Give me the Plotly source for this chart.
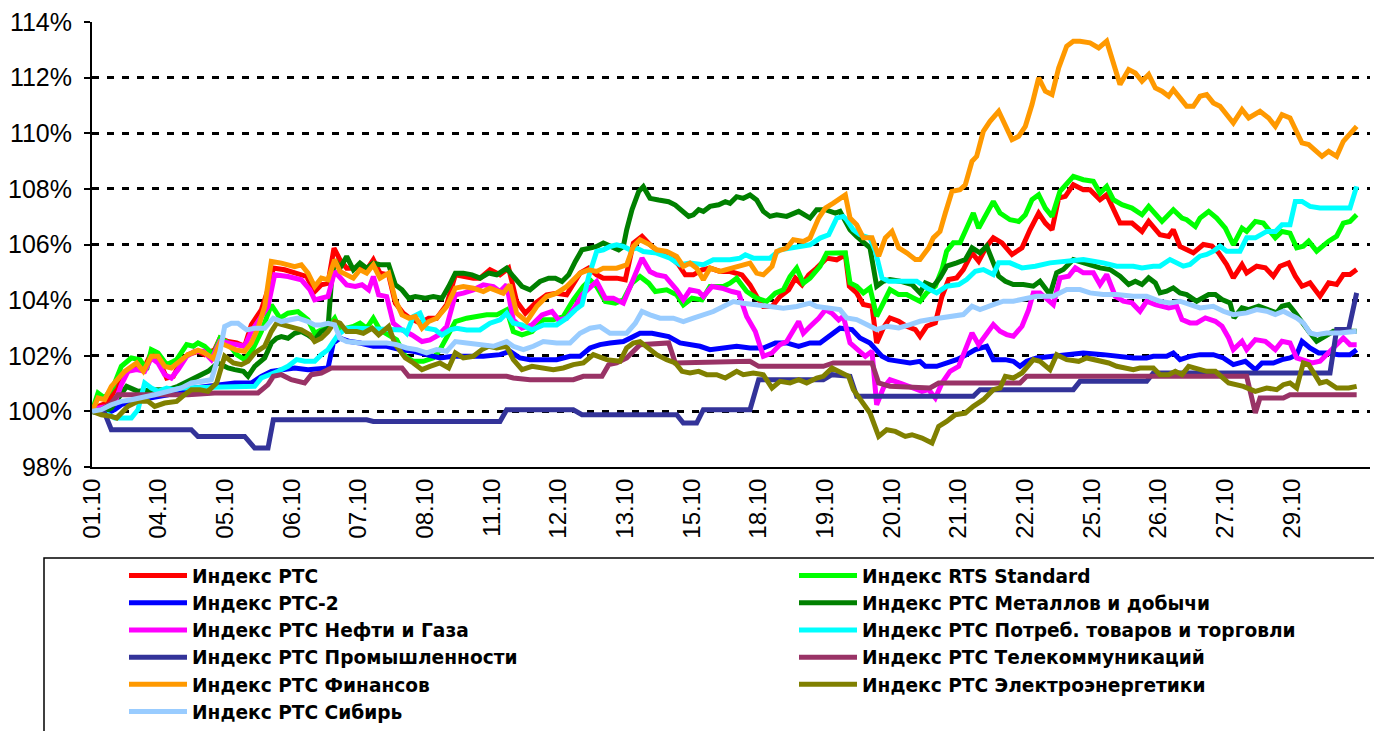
import plotly.graph_objects as go

# ---- category axis (sample number, 10 samples per labelled session) ----
tick_pos = [0, 10, 20, 30, 40, 50, 60, 70, 80, 90, 100, 110, 120, 130, 140, 150, 160, 170, 180]
tick_labels = ["01.10", "04.10", "05.10", "06.10", "07.10", "08.10", "11.10", "12.10", "13.10", "15.10",
               "18.10", "19.10", "20.10", "21.10", "22.10", "25.10", "26.10", "27.10", "29.10"]
y_ticks = [98, 100, 102, 104, 106, 108, 110, 112, 114]
y_labels = ["98%", "100%", "102%", "104%", "106%", "108%", "110%", "112%", "114%"]

names = ["Индекс РТС", "Индекс RTS Standard", "Индекс РТС-2", "Индекс РТС Металлов и добычи",
         "Индекс РТС Нефти и Газа", "Индекс РТС Потреб. товаров и торговли", "Индекс РТС Промышленности",
         "Индекс РТС Телекоммуникаций", "Индекс РТС Финансов", "Индекс РТС Электроэнергетики",
         "Индекс РТС Сибирь"]
colors = ["#FF0000", "#00FF00", "#0000FF", "#008000", "#FF00FF", "#00FFFF", "#333399",
          "#993366", "#FF9900", "#808000", "#99CCFF"]

x_rts = [0, 0.9, 2.2, 3.2, 4.4, 6.4, 7.7, 8.9, 10.0, 11.2, 12.2, 13.2, 14.4, 15.9, 16.9, 18.4, 19.2, 20.4, 21.7, 22.9,
         23.9, 25.4, 26.4, 27.2, 28.9, 30.9, 32.2, 33.4, 34.4, 35.4, 36.3, 37.2, 38.2, 40.2, 41.2, 42.2, 43.2, 44.5,
         45.5, 46.7, 47.7, 49.2, 50.5, 51.7, 53.2, 54.5, 55.7, 57.2, 58.2, 59.7, 61.2, 62.5, 63.7, 65.0, 66.5, 68.2,
         69.7, 71.2, 73.2, 74.5, 75.7, 76.7, 78.7, 80.0, 81.2, 82.5, 83.7, 85.2, 86.7, 88.0, 89.0, 90.2, 91.5, 92.7,
         94.2, 95.7, 97.5, 98.7, 99.7, 100.7, 102.0, 103.2, 104.5, 105.5, 106.5, 107.5, 108.7, 110.2, 111.7, 113.0,
         113.6, 114.7, 115.7, 117.0, 117.7, 118.7, 119.7, 121.0, 122.2, 123.5, 124.2, 125.2, 126.5, 127.5, 128.5,
         129.7, 130.7, 132.0, 133.0, 134.2, 135.2, 136.5, 138.0, 139.5, 140.7, 142.0, 143.0, 144.0, 145.0, 146.0,
         147.2, 148.7, 149.7, 151.2, 152.2, 153.2, 154.2, 156.0, 157.5, 158.5, 160.2, 161.5, 162.2, 163.2, 165.2,
         166.7, 168.0, 169.0, 170.2, 171.2, 172.5, 173.2, 174.7, 176.0, 177.2, 178.2, 179.5, 180.5, 181.5, 182.7,
         184.2, 185.5, 186.7, 187.7, 188.7, 189.7]
y_rts = [100, 100.18, 100.3, 100.66, 101.26, 101.62, 101.5, 102.1, 101.86, 101.2, 101.26, 101.74, 102.04, 102.16,
         102.04, 102.22, 102.63, 102.51, 102.46, 102.34, 103.11, 103.65, 104.37, 105.15, 105.09, 104.97, 104.85,
         104.31, 104.55, 104.61, 105.87, 105.45, 105.15, 105.15, 105.09, 105.45, 104.97, 104.91, 103.89, 103.53,
         103.35, 103.17, 103.35, 103.35, 103.83, 104.91, 104.85, 104.79, 104.79, 105.09, 104.91, 105.15, 103.95,
         103.53, 103.89, 104.19, 104.25, 104.19, 104.97, 105.15, 104.91, 104.79, 104.79, 104.73, 106.05, 106.29,
         105.99, 105.69, 105.57, 105.27, 104.91, 104.91, 105.09, 105.15, 105.03, 105.03, 104.91, 104.55, 104.13,
         103.77, 103.77, 104.13, 104.37, 104.79, 104.55, 104.91, 105.15, 105.51, 105.45, 105.63, 104.5, 104.26,
         103.84, 103.78, 102.46, 103.0, 103.36, 103.24, 103.06, 102.94, 102.7, 103.06, 103.18, 104.14, 104.74,
         104.8, 105.1, 105.7, 105.4, 105.94, 106.24, 106.06, 105.64, 105.88, 106.53, 107.13, 106.77, 106.53,
         107.67, 107.73, 108.15, 107.97, 107.97, 107.61, 107.79, 107.25, 106.77, 106.77, 106.47, 106.83, 106.35,
         106.29, 106.53, 105.93, 105.7, 106.0, 105.94, 105.7, 105.28, 104.8, 105.28, 104.98, 105.22, 105.16,
         104.86, 105.22, 105.34, 104.86, 104.5, 104.62, 104.14, 104.62, 104.56, 104.92, 104.92, 105.1]

x_std = [0, 0.9, 1.9, 3.2, 4.4, 5.9, 7.2, 8.2, 8.9, 9.9, 11.2, 12.7, 14.2, 15.2, 15.9, 16.9, 18.2, 19.2, 20.4, 21.7,
         22.9, 24.2, 25.4, 26.9, 28.2, 29.4, 30.9, 32.4, 33.4, 34.4, 35.4, 36.4, 37.2, 39.2, 40.2, 41.2, 42.2, 43.2,
         45.7, 47.0, 48.2, 49.7, 51.2, 52.2, 53.2, 54.5, 56.2, 57.7, 59.2, 60.7, 62.2, 63.2, 64.5, 66.0, 67.7, 69.2,
         70.7, 72.2, 73.7, 74.7, 75.7, 77.0, 78.5, 79.7, 81.0, 82.2, 83.5, 84.5, 86.2, 87.7, 88.7, 90.0, 91.5, 92.7,
         94.7, 95.7, 96.7, 98.2, 99.7, 101.2, 102.5, 103.7, 104.7, 105.7, 106.7, 107.7, 109.2, 110.2, 111.7, 113.0,
         113.7, 114.7, 115.7, 116.7, 117.7, 118.7, 119.7, 121.0, 122.2, 123.2, 124.2, 125.2, 126.5, 127.5, 128.2,
         129.2, 130.2, 131.2, 132.2, 133.0, 134.2, 135.2, 136.2, 137.7, 139.0, 140.0, 141.0, 142.0, 143.0, 144.0,
         145.2, 146.2, 147.2, 148.7, 150.2, 151.2, 152.2, 153.2, 154.5, 156.0, 157.5, 158.5, 160.5, 162.2, 163.5,
         164.2, 165.5, 166.2, 167.5, 168.7, 170.0, 171.2, 172.5, 173.2, 174.5, 175.7, 177.5, 178.5, 179.7, 180.7,
         181.7, 182.5, 183.7, 185.5, 186.7, 187.7, 188.7, 189.7]
y_std = [100, 100.66, 100.48, 100.9, 101.62, 101.92, 101.86, 101.5, 102.22, 102.1, 101.68, 101.86, 102.4, 102.34,
         102.46, 102.34, 102.04, 102.63, 102.46, 102.04, 101.86, 102.28, 102.87, 103.83, 103.35, 103.53, 103.59,
         103.29, 102.81, 102.93, 103.05, 103.35, 102.93, 103.05, 103.17, 102.99, 103.35, 102.93, 102.57, 101.98,
         101.8, 101.8, 101.92, 102.22, 102.69, 103.23, 103.35, 103.41, 103.47, 103.47, 103.65, 102.87, 102.75,
         102.87, 103.29, 103.29, 103.41, 104.01, 104.49, 104.73, 104.49, 103.95, 103.89, 104.01, 104.61, 104.85,
         104.61, 104.31, 104.37, 104.19, 103.83, 104.07, 104.01, 104.49, 104.49, 104.61, 104.79, 104.31, 104.07,
         103.95, 104.25, 104.37, 104.85, 105.15, 104.61, 104.79, 105.21, 105.69, 105.69, 105.7, 104.62, 104.5,
         104.26, 104.44, 103.42, 103.9, 104.38, 104.2, 104.2, 104.08, 103.96, 104.26, 104.5, 105.1, 105.76, 106.06,
         106.06, 106.59, 107.13, 106.59, 107.13, 107.55, 107.13, 106.89, 106.83, 107.07, 107.61, 107.79, 107.31,
         107.01, 107.91, 108.21, 108.45, 108.33, 108.27, 107.85, 108.09, 107.61, 107.43, 107.31, 107.07, 107.37,
         106.83, 107.25, 106.95, 106.89, 106.65, 106.95, 107.19, 106.95, 106.59, 105.99, 106.59, 106.47, 106.83,
         106.77, 106.24, 106.47, 106.41, 105.88, 105.94, 106.12, 105.76, 106.12, 106.3, 106.77, 106.83, 107.07]

x_rts2 = [0, 2.4, 3.4, 4.4, 5.9, 7.4, 9.4, 11.4, 13.4, 15.4, 17.4, 19.4, 21.4, 23.9, 25.4, 26.9, 28.9, 30.4, 32.4,
          34.4, 35.4, 36.2, 37.2, 38.7, 40.2, 42.2, 44.2, 46.2, 48.2, 50.2, 52.2, 54.2, 56.2, 58.7, 61.2, 62.7, 64.2,
          65.7, 67.7, 69.7, 71.7, 73.2, 74.7, 76.2, 77.7, 79.7, 80.7, 82.2, 84.0, 86.5, 88.2, 89.7, 91.2, 92.7, 94.7,
          96.7, 98.7, 100.7, 102.5, 104.2, 106.0, 107.7, 109.2, 110.5, 111.7, 112.2, 114.0, 115.2, 116.7, 118.5,
          119.5, 121.0, 122.7, 124.2, 125.0, 126.7, 128.2, 129.7, 131.2, 132.5, 134.2, 135.2, 137.0, 138.2, 139.2,
          140.2, 141.7, 143.7, 146.2, 148.7, 151.7, 153.7, 156.2, 158.2, 159.2, 161.2, 162.2, 163.2, 164.7, 166.2,
          168.2, 169.7, 171.2, 173.0, 174.5, 175.5, 177.2, 178.5, 179.7, 180.7, 181.5, 182.7, 184.0, 185.2, 187.0,
          188.7, 189.7]
y_rts2 = [100, 99.94, 100.06, 100.24, 100.36, 100.42, 100.54, 100.6, 100.72, 100.84, 100.9, 100.96, 101.02, 101.02,
          101.26, 101.44, 101.5, 101.56, 101.5, 101.56, 101.56, 102.46, 102.63, 102.51, 102.46, 102.34, 102.34,
          102.22, 102.16, 102.04, 101.92, 101.98, 101.98, 101.98, 102.04, 102.16, 101.92, 101.86, 101.86, 101.86,
          101.98, 101.98, 102.28, 102.4, 102.46, 102.51, 102.63, 102.81, 102.81, 102.69, 102.46, 102.4, 102.34,
          102.22, 102.28, 102.34, 102.28, 102.28, 102.46, 102.46, 102.34, 102.46, 102.46, 102.69, 102.93, 102.99,
          102.94, 102.64, 102.46, 101.98, 101.86, 101.8, 101.74, 101.8, 101.62, 101.62, 101.74, 101.86, 102.04,
          102.22, 102.34, 101.86, 101.86, 101.8, 101.62, 101.8, 101.92, 101.98, 102.04, 102.1, 102.04, 101.98,
          101.92, 101.92, 101.98, 101.98, 102.1, 101.86, 101.98, 102.04, 102.04, 101.92, 101.68, 101.8, 101.5,
          101.74, 101.74, 101.86, 101.92, 102.04, 102.52, 102.28, 102.1, 102.1, 102.04, 102.04, 102.22]

x_metal = [0, 1.4, 2.9, 4.4, 5.2, 6.9, 9.4, 11.4, 12.9, 14.4, 15.9, 17.4, 18.9, 19.7, 20.4, 21.4, 22.7, 23.4, 24.4,
           25.9, 26.9, 27.7, 28.4, 29.4, 30.4, 31.4, 32.4, 33.4, 34.4, 35.4, 35.9, 36.4, 37.2, 38.2, 39.2, 40.2, 41.2,
           42.2, 43.2, 44.5, 45.5, 46.5, 47.5, 48.5, 50.0, 51.2, 52.5, 53.5, 54.5, 55.7, 57.0, 58.2, 59.5, 60.7, 62.2,
           63.2, 64.5, 65.7, 67.2, 68.5, 69.5, 70.5, 71.5, 72.5, 73.5, 74.7, 75.7, 76.7, 77.7, 79.0, 79.7, 80.2, 81.0,
           82.0, 82.7, 83.7, 85.0, 86.5, 87.5, 88.5, 89.5, 90.2, 91.0, 91.7, 92.7, 94.0, 95.0, 95.7, 96.7, 97.7, 98.7,
           99.7, 100.7, 101.7, 102.7, 104.2, 106.0, 107.7, 108.7, 110.0, 111.5, 112.2, 113.7, 114.7, 115.7, 116.7,
           117.7, 118.7, 119.7, 121.2, 123.0, 124.2, 125.0, 126.2, 127.2, 128.2, 129.7, 131.0, 132.0, 133.2, 134.2,
           135.2, 136.0, 137.0, 138.2, 139.7, 141.2, 142.2, 143.7, 144.7, 145.7, 147.2, 148.7, 149.7, 151.2, 152.7,
           154.2, 155.5, 156.5, 157.5, 158.5, 159.5, 160.2, 161.2, 162.2, 163.2, 164.2, 165.7, 167.5, 168.5, 169.5,
           170.7, 171.3, 172.5, 173.5, 175.0, 176.5, 177.7, 178.5, 179.5, 180.5, 181.5, 182.7, 183.7, 185.0, 186.2,
           187.7, 189.7]
y_metal = [100, 99.94, 100.12, 100.6, 100.9, 100.72, 100.78, 100.78, 100.9, 101.08, 101.26, 101.44, 101.74, 101.62,
           101.56, 101.5, 101.44, 101.26, 101.62, 101.92, 102.46, 102.63, 102.69, 102.63, 102.81, 102.87, 102.75,
           102.57, 102.87, 102.99, 104.61, 105.45, 105.15, 105.57, 105.09, 105.33, 105.15, 105.33, 105.27, 105.27,
           104.55, 104.37, 104.07, 104.13, 104.07, 104.13, 104.07, 104.49, 104.97, 104.97, 104.91, 104.79, 104.97,
           104.91, 105.15, 104.85, 104.49, 104.37, 104.67, 104.79, 104.79, 104.67, 104.91, 105.39, 105.81, 105.87,
           105.93, 106.05, 105.93, 105.81, 105.93, 106.53, 107.25, 107.9, 108.08, 107.66, 107.6, 107.54, 107.42,
           107.19, 107.01, 107.07, 107.25, 107.19, 107.37, 107.43, 107.54, 107.48, 107.72, 107.66, 107.78, 107.6,
           107.19, 107.01, 107.07, 107.01, 107.19, 106.95, 107.25, 107.25, 107.13, 107.19, 106.53, 106.29, 106.06,
           105.88, 104.5, 104.68, 104.74, 104.68, 104.56, 104.26, 104.62, 104.5, 104.8, 105.22, 105.34, 105.46,
           105.88, 105.7, 105.94, 105.34, 104.86, 104.68, 104.56, 104.56, 104.5, 104.68, 104.2, 104.98, 105.1,
           105.46, 105.34, 105.28, 105.16, 105.1, 104.86, 104.56, 104.68, 104.56, 104.8, 104.62, 104.26, 104.32,
           104.44, 104.26, 104.2, 103.96, 104.2, 104.2, 104.02, 103.9, 103.36, 103.72, 103.66, 103.78, 103.66,
           103.54, 103.78, 103.84, 103.54, 103.18, 102.82, 102.52, 102.7, 102.88, 102.88, 102.88]

x_oil = [0, 0.9, 2.2, 3.4, 4.4, 5.4, 6.7, 7.9, 8.9, 9.9, 10.9, 11.9, 12.9, 14.2, 15.4, 16.7, 17.9, 19.2, 20.4, 21.7,
         22.9, 23.9, 25.4, 26.4, 27.4, 29.4, 31.4, 32.7, 33.4, 34.4, 35.4, 36.4, 37.2, 38.2, 39.5, 40.5, 41.5, 42.2,
         43.0, 44.2, 45.2, 46.5, 48.0, 49.5, 50.7, 52.0, 53.2, 54.5, 55.7, 57.2, 58.7, 60.2, 61.2, 62.2, 63.2, 64.5,
         66.0, 67.5, 69.0, 70.0, 71.2, 72.5, 73.5, 74.5, 75.7, 77.0, 78.2, 79.7, 81.0, 82.5, 83.7, 84.7, 86.0, 87.7,
         88.7, 89.7, 91.0, 91.7, 93.0, 94.5, 96.0, 97.0, 98.2, 99.5, 100.7, 102.0, 103.2, 104.2, 106.0, 106.7, 107.7,
         109.0, 110.0, 111.0, 112.0, 112.7, 113.7, 115.0, 116.0, 117.0, 117.7, 118.7, 119.7, 121.2, 123.0, 124.5,
         125.5, 126.5, 127.5, 128.7, 130.0, 131.2, 132.0, 133.0, 134.2, 135.2, 136.2, 137.2, 138.2, 139.5, 140.5,
         141.2, 142.2, 143.2, 144.2, 145.2, 146.5, 147.5, 148.7, 150.2, 151.2, 152.2, 153.5, 154.7, 156.0, 157.2,
         158.2, 159.5, 161.5, 162.7, 163.5, 164.7, 165.7, 167.0, 168.5, 169.5, 170.5, 171.2, 172.5, 173.2, 174.5,
         176.0, 177.5, 178.5, 179.7, 180.7, 181.7, 183.0, 184.2, 185.5, 186.7, 187.7, 188.7, 189.7]
y_oil = [100, 100.12, 100.18, 100.3, 100.96, 101.44, 101.5, 101.44, 101.92, 101.74, 101.32, 101.2, 101.5, 101.98,
         102.16, 102.16, 101.86, 102.51, 102.46, 102.4, 102.34, 102.87, 103.41, 103.77, 104.91, 104.85, 104.73,
         104.37, 104.01, 104.07, 104.13, 105.03, 104.79, 104.55, 104.49, 104.55, 104.37, 104.85, 104.19, 104.13,
         103.17, 102.93, 102.75, 102.51, 102.57, 102.75, 103.05, 104.19, 104.25, 104.37, 104.55, 104.49, 104.31,
         104.55, 103.29, 102.99, 103.11, 103.47, 103.59, 103.29, 103.35, 103.77, 104.19, 104.43, 104.67, 104.07,
         104.07, 103.89, 104.61, 105.51, 105.03, 104.91, 104.85, 104.37, 104.01, 104.37, 104.31, 104.13, 104.49,
         104.43, 104.31, 104.25, 103.41, 102.87, 101.98, 102.1, 102.4, 102.51, 103.23, 102.81, 103.05, 103.35,
         103.65, 103.53, 103.29, 103.42, 102.46, 102.22, 101.98, 102.16, 100.24, 100.84, 101.14, 101.02, 100.84,
         100.72, 100.78, 100.48, 101.02, 101.44, 101.62, 102.34, 102.82, 102.4, 102.82, 103.12, 102.88, 102.76,
         102.7, 103.06, 103.66, 104.26, 104.26, 104.02, 103.84, 104.8, 104.86, 105.16, 104.98, 104.98, 104.56,
         104.92, 104.14, 103.96, 103.9, 103.6, 103.96, 103.84, 103.72, 103.78, 103.3, 103.18, 103.18, 103.36,
         103.24, 103.06, 102.64, 102.22, 102.52, 102.22, 102.58, 102.52, 102.22, 102.52, 102.46, 101.92, 101.86,
         101.74, 101.8, 102.1, 102.4, 102.64, 102.4, 102.4]

x_cons = [0, 1.4, 2.4, 3.4, 5.9, 6.9, 7.9, 8.9, 9.9, 11.2, 12.2, 13.4, 24.4, 25.4, 26.7, 27.9, 29.4, 30.7, 31.9, 33.4,
          34.4, 35.4, 36.2, 36.9, 38.2, 39.7, 46.7, 47.2, 48.2, 49.2, 50.2, 51.5, 52.5, 53.7, 54.7, 56.2, 58.2, 59.7,
          61.2, 62.2, 63.2, 64.5, 66.0, 67.7, 69.7, 71.2, 72.5, 73.5, 74.5, 75.2, 75.7, 76.7, 77.7, 78.7, 79.7, 80.7,
          81.7, 82.7, 84.7, 86.7, 88.2, 89.7, 91.7, 93.2, 95.7, 97.2, 98.0, 99.2, 101.7, 103.2, 104.7, 106.2, 107.7,
          109.2, 110.5, 111.7, 112.7, 113.2, 114.2, 115.2, 116.7, 117.5, 118.5, 119.5, 121.2, 123.7, 125.2, 126.7,
          128.2, 130.0, 131.2, 132.5, 133.7, 135.2, 136.0, 137.7, 139.5, 141.5, 143.7, 146.2, 148.7, 151.7, 153.7,
          156.2, 157.5, 159.2, 160.2, 161.7, 162.7, 163.7, 164.7, 166.2, 167.2, 168.2, 169.2, 170.2, 172.2, 173.2,
          174.5, 176.2, 177.5, 178.5, 179.7, 180.5, 181.5, 182.7, 184.2, 186.2, 188.7, 189.7]
y_cons = [100, 99.94, 99.88, 99.76, 99.76, 100.06, 101.02, 100.84, 100.72, 100.84, 100.78, 100.84, 100.9, 101.2,
          101.32, 101.44, 101.62, 101.86, 101.8, 101.8, 102.04, 102.22, 102.51, 102.75, 102.99, 102.99, 102.93,
          102.81, 103.41, 103.53, 102.99, 102.93, 102.75, 102.93, 102.99, 102.93, 102.93, 103.17, 103.29, 103.53,
          103.17, 103.11, 102.93, 103.11, 103.11, 103.35, 103.65, 103.83, 104.85, 105.45, 105.75, 105.81, 105.93,
          105.99, 105.93, 105.81, 105.87, 105.75, 105.69, 105.51, 105.27, 105.33, 105.27, 105.45, 105.45, 105.51,
          105.63, 105.51, 105.51, 105.81, 105.87, 105.93, 105.99, 106.23, 106.35, 106.95, 107.01, 106.89, 106.53,
          106.35, 106.23, 105.76, 104.8, 104.68, 104.68, 104.68, 104.44, 104.26, 104.5, 104.56, 104.74, 105.04,
          105.1, 104.92, 105.34, 105.34, 105.16, 105.22, 105.34, 105.4, 105.46, 105.34, 105.22, 105.22, 105.16,
          105.22, 105.22, 105.46, 105.34, 105.22, 105.28, 105.58, 105.64, 105.76, 105.94, 105.76, 105.76, 106.24,
          106.24, 106.47, 106.47, 106.71, 106.71, 107.55, 107.55, 107.37, 107.31, 107.31, 107.31, 108.09]

x_ind = [0, 1.9, 2.9, 14.9, 15.9, 22.9, 24.4, 26.4, 27.2, 41.2, 42.2, 61.2, 62.2, 72.2, 73.5, 87.7, 88.7, 90.7, 91.7,
         98.7, 100.0, 109.7, 111.0, 113.7, 114.7, 132.2, 133.2, 147.2, 148.2, 158.2, 159.2, 185.7, 186.7, 188.5, 189.7]
y_ind = [100, 99.94, 99.34, 99.34, 99.1, 99.1, 98.68, 98.68, 99.7, 99.7, 99.64, 99.64, 100.06, 100.06, 99.88, 99.88,
         99.58, 99.58, 100.06, 100.06, 101.14, 101.14, 101.32, 101.26, 100.54, 100.54, 100.78, 100.78, 101.08,
         101.08, 101.38, 101.38, 102.94, 102.94, 104.26]

x_tel = [0, 1.4, 2.9, 3.9, 14.4, 18.4, 24.9, 26.4, 27.2, 28.4, 29.9, 31.9, 32.9, 34.4, 35.9, 46.5, 47.5, 62.2, 63.2,
         65.7, 72.2, 73.7, 76.5, 77.5, 78.7, 80.2, 82.2, 86.5, 87.5, 98.7, 100.0, 109.7, 111.2, 117.0, 118.0, 119.7,
         125.7, 127.0, 139.2, 140.2, 173.2, 174.0, 174.5, 175.2, 178.7, 179.7, 189.7]
y_tel = [100, 100.06, 100.3, 100.6, 100.6, 100.66, 100.66, 100.96, 101.26, 101.32, 101.14, 101.02, 101.32, 101.38,
         101.56, 101.56, 101.26, 101.26, 101.2, 101.14, 101.14, 101.26, 101.26, 101.68, 101.74, 101.92, 102.4, 102.46,
         101.74, 101.8, 101.62, 101.62, 101.74, 101.74, 101.02, 100.9, 100.84, 101.02, 101.02, 101.26, 101.26,
         100.54, 99.94, 100.48, 100.48, 100.6, 100.6]

x_fin = [0, 0.9, 1.9, 2.9, 4.9, 6.7, 7.7, 8.9, 9.9, 10.9, 11.9, 13.4, 14.4, 15.9, 16.9, 18.2, 19.2, 20.4, 21.7, 22.9,
         23.9, 24.9, 25.9, 26.9, 28.4, 30.4, 31.4, 32.4, 33.4, 34.4, 35.4, 36.4, 37.2, 39.2, 40.2, 41.2, 42.2, 43.2,
         44.5, 45.5, 46.5, 47.5, 48.5, 49.5, 50.5, 51.7, 53.2, 54.5, 55.7, 57.2, 58.7, 59.7, 61.7, 62.7, 63.7, 65.2,
         66.7, 68.2, 69.7, 71.2, 73.2, 74.5, 75.7, 76.7, 78.7, 80.2, 81.2, 82.2, 83.7, 84.7, 86.2, 87.7, 88.7, 89.7,
         90.7, 91.7, 92.7, 94.2, 96.2, 98.7, 99.7, 100.7, 102.0, 102.7, 104.2, 105.2, 106.7, 107.7, 109.0, 110.0,
         111.2, 113.0, 113.7, 114.7, 115.7, 117.0, 118.0, 119.0, 120.0, 121.0, 122.2, 123.5, 124.2, 125.5, 126.2,
         127.2, 128.0, 129.0, 130.2, 131.0, 132.0, 132.7, 133.7, 134.7, 136.0, 137.0, 138.0, 139.0, 140.0, 141.0,
         142.0, 143.0, 144.0, 145.0, 146.2, 147.2, 148.2, 149.7, 151.0, 152.2, 153.2, 154.2, 155.5, 156.5, 157.5,
         158.5, 159.5, 160.5, 161.5, 162.2, 163.2, 164.2, 165.2, 166.2, 167.2, 168.2, 169.2, 170.2, 171.2, 172.5,
         173.5, 175.2, 176.5, 177.5, 178.5, 179.7, 180.5, 181.5, 182.5, 183.5, 184.5, 185.5, 186.7, 187.7, 188.7,
         189.7]
y_fin = [100, 100.48, 100.42, 100.9, 101.44, 101.74, 101.44, 101.98, 101.98, 101.62, 101.56, 101.86, 102.04, 102.2,
         102.1, 101.9, 102.46, 102.34, 102.2, 102.16, 102.46, 103.0, 103.77, 105.39, 105.33, 105.2, 105.27, 104.97,
         104.49, 104.79, 104.73, 105.45, 105.03, 104.79, 105.09, 104.97, 105.27, 104.79, 104.97, 104.01, 103.47,
         103.35, 103.41, 102.99, 103.23, 103.35, 103.77, 104.43, 104.49, 104.43, 104.31, 104.43, 104.25, 104.55,
         103.53, 103.23, 103.77, 104.13, 104.25, 104.49, 104.97, 105.09, 105.03, 105.15, 105.15, 105.27, 105.93,
         106.17, 105.99, 105.81, 105.75, 105.57, 105.21, 105.33, 105.15, 104.73, 105.15, 105.03, 105.15, 105.33,
         104.97, 104.91, 105.21, 105.75, 105.87, 106.17, 106.11, 106.23, 106.95, 107.31, 107.49, 107.78, 106.95,
         106.71, 106.24, 106.24, 105.58, 106.24, 106.47, 105.88, 105.7, 105.46, 105.46, 105.88, 106.24, 106.47,
         107.13, 107.91, 107.97, 108.15, 108.99, 109.17, 110.07, 110.43, 110.79, 110.25, 109.77, 109.89, 110.25,
         111.03, 111.99, 111.51, 111.39, 112.35, 113.13, 113.31, 113.31, 113.25, 113.07, 113.31, 112.53, 111.75,
         112.29, 112.17, 111.87, 112.11, 111.63, 111.51, 111.33, 111.57, 111.27, 110.97, 110.97, 111.33, 111.39,
         111.09, 110.97, 110.67, 110.37, 110.85, 110.55, 110.79, 110.55, 110.25, 110.67, 110.55, 110.13, 109.65,
         109.59, 109.35, 109.17, 109.35, 109.17, 109.71, 109.95, 110.25]

x_el = [0, 1.4, 2.9, 3.7, 5.4, 6.9, 8.4, 9.4, 10.9, 12.7, 13.9, 14.9, 16.2, 17.4, 18.7, 19.9, 21.2, 22.4, 23.4, 24.4,
        25.9, 26.9, 27.7, 29.4, 31.4, 32.7, 33.4, 34.4, 35.4, 36.4, 37.2, 38.2, 39.7, 40.7, 42.0, 43.0, 44.5, 45.5,
        47.0, 48.2, 49.5, 50.7, 52.2, 53.5, 54.5, 55.7, 57.2, 58.5, 59.5, 60.7, 62.2, 63.2, 64.5, 66.0, 67.5, 69.2,
        70.7, 72.2, 73.7, 75.2, 77.2, 79.2, 80.2, 81.2, 82.2, 83.2, 84.7, 86.2, 87.5, 88.5, 89.7, 91.0, 92.2, 93.7,
        95.0, 96.7, 97.7, 99.2, 100.7, 102.0, 103.2, 104.7, 106.0, 107.2, 108.7, 109.7, 111.0, 113.0, 113.5, 114.2,
        115.7, 116.7, 118.0, 119.2, 120.5, 122.0, 123.0, 124.5, 126.0, 127.0, 128.2, 129.5, 131.0, 132.2, 133.7,
        135.2, 136.2, 137.0, 138.2, 139.5, 141.2, 142.2, 143.7, 144.7, 146.2, 148.0, 149.2, 151.2, 152.5, 153.7,
        156.2, 157.2, 159.2, 160.2, 161.5, 162.5, 163.5, 164.5, 165.7, 167.2, 168.5, 170.5, 172.7, 174.5, 176.2,
        177.7, 178.7, 179.7, 180.7, 181.7, 182.5, 183.5, 184.2, 185.2, 186.7, 188.5, 189.7]
y_el = [100, 99.88, 99.82, 99.76, 100.18, 100.36, 100.36, 100.18, 100.3, 100.36, 100.6, 100.78, 100.78, 100.72,
        101.02, 101.98, 101.74, 101.68, 101.8, 102.1, 102.34, 102.87, 103.17, 103.05, 102.93, 102.75, 102.51, 102.63,
        102.87, 103.23, 103.17, 102.87, 102.87, 102.81, 102.99, 102.75, 103.05, 102.4, 101.92, 101.74, 101.5, 101.62,
        101.74, 101.56, 102.1, 101.92, 101.98, 102.22, 102.34, 102.28, 102.34, 101.86, 101.5, 101.62, 101.56, 101.5,
        101.56, 101.68, 101.74, 102.04, 101.86, 101.8, 102.28, 102.46, 102.51, 102.34, 102.04, 101.86, 101.74,
        101.44, 101.38, 101.44, 101.32, 101.32, 101.2, 101.44, 101.32, 101.38, 101.32, 100.84, 101.08, 101.02,
        101.14, 101.02, 101.2, 101.26, 101.56, 101.32, 101.26, 100.78, 100.3, 99.94, 99.1, 99.34, 99.28, 99.1,
        99.16, 99.04, 98.86, 99.46, 99.64, 99.88, 99.94, 100.18, 100.42, 100.78, 100.84, 101.26, 101.2, 101.38,
        101.86, 101.8, 101.5, 102.04, 101.86, 101.8, 101.92, 101.8, 101.74, 101.62, 101.5, 101.56, 101.56, 101.32,
        101.32, 101.44, 101.32, 101.62, 101.56, 101.44, 101.44, 101.02, 100.9, 100.72, 100.84, 100.78, 100.96,
        101.02, 100.84, 101.74, 101.68, 101.26, 101.02, 101.08, 100.84, 100.84, 100.9]

x_sib = [0, 1.4, 2.9, 4.4, 5.9, 7.4, 9.4, 11.4, 13.4, 14.9, 16.4, 17.9, 19.2, 19.9, 20.9, 21.9, 23.2, 24.4, 25.9, 27.2,
         28.4, 29.7, 30.9, 32.4, 33.4, 34.4, 35.4, 36.4, 37.2, 38.2, 40.2, 44.2, 45.7, 47.2, 48.7, 50.2, 51.7, 53.2,
         54.5, 56.2, 58.2, 60.2, 62.2, 63.2, 64.7, 66.2, 67.7, 69.7, 71.7, 73.2, 74.7, 76.2, 77.7, 80.2, 81.5, 82.5,
         83.7, 85.2, 87.2, 88.7, 90.2, 91.7, 93.2, 94.7, 96.2, 97.7, 99.7, 101.7, 103.7, 105.7, 107.7, 108.7, 110.7,
         112.2, 113.2, 114.7, 116.2, 117.7, 119.2, 121.0, 122.7, 124.2, 125.7, 127.2, 129.2, 130.7, 132.0, 133.2,
         135.2, 136.7, 138.2, 140.2, 141.7, 144.2, 146.2, 148.2, 149.7, 151.7, 153.7, 156.2, 158.2, 160.2, 161.7,
         163.2, 164.7, 166.2, 168.2, 169.7, 171.2, 173.2, 174.7, 176.2, 177.5, 178.7, 180.7, 181.7, 182.7, 183.7,
         185.2, 187.2, 189.7]
y_sib = [100, 100.06, 100.24, 100.36, 100.42, 100.48, 100.6, 100.72, 100.84, 101.02, 101.08, 101.14, 102.16, 103.05,
         103.17, 103.17, 102.93, 102.99, 102.99, 103.35, 103.23, 103.29, 103.35, 103.23, 103.11, 103.11, 103.17,
         103.11, 102.63, 102.51, 102.46, 102.46, 102.4, 102.28, 102.22, 102.1, 102.22, 102.16, 102.51, 102.46, 102.4,
         102.34, 102.51, 102.34, 102.22, 102.34, 102.51, 102.46, 102.46, 102.81, 102.99, 103.05, 102.81, 102.81,
         103.17, 103.59, 103.47, 103.35, 103.35, 103.23, 103.35, 103.47, 103.59, 103.77, 103.95, 103.89, 103.83,
         103.77, 103.71, 103.77, 103.89, 103.77, 103.71, 103.66, 103.36, 103.3, 103.12, 102.94, 103.06, 103.0,
         103.12, 103.24, 103.3, 103.36, 103.42, 103.48, 103.78, 103.66, 103.84, 103.96, 103.96, 104.08, 104.14,
         104.14, 104.38, 104.38, 104.26, 104.2, 104.2, 104.14, 104.14, 103.96, 103.9, 103.96, 103.84, 103.72,
         103.78, 103.6, 103.48, 103.54, 103.66, 103.6, 103.48, 103.6, 103.36, 103.18, 102.82, 102.76, 102.82,
         102.82, 102.88]

series_x = [x_rts, x_std, x_rts2, x_metal, x_oil, x_cons, x_ind, x_tel, x_fin, x_el, x_sib]
series_y = [y_rts, y_std, y_rts2, y_metal, y_oil, y_cons, y_ind, y_tel, y_fin, y_el, y_sib]

FONT = "Liberation Sans, Arial, sans-serif"
LEG_FONT = "DejaVu Sans, Liberation Sans, Arial, sans-serif"

W, H = 1374, 731
ML, MR, MT, MB = 92, 4, 22, 264
plot_w = W - ML - MR
plot_h = H - MT - MB
bottom_px = H - MB


def px_x(p):
    return (p - ML) / plot_w


def px_y(p):
    return -(p - bottom_px) / plot_h


fig = go.Figure()
for i, (nm, col, xs, ys) in enumerate(zip(names, colors, series_x, series_y)):
    fig.add_trace(go.Scatter(x=xs, y=ys, mode="lines", name=nm,
                             legend="legend" if i % 2 == 0 else "legend2",
                             line=dict(color=col, width=5)))

leg_common = dict(
    orientation="v", xanchor="left", yanchor="top",
    itemwidth=58,
    font=dict(family=LEG_FONT, size=18.6, color="black", weight="bold"),
    bgcolor="rgba(0,0,0,0)", borderwidth=0, traceorder="normal",
    tracegroupgap=0,
)

fig.update_layout(
    width=W, height=H,
    margin=dict(l=ML, r=MR, t=MT, b=MB, pad=0, autoexpand=False),
    paper_bgcolor="white", plot_bgcolor="white",
    font=dict(family=FONT, color="black"),
    showlegend=True,
    legend=dict(x=px_x(124), y=px_y(557), **leg_common),
    legend2=dict(x=px_x(794), y=px_y(557), **leg_common),
    xaxis=dict(
        range=[0, 191.7],
        tickmode="array", tickvals=tick_pos, ticktext=tick_labels,
        tickangle=-90,
        tickfont=dict(family=FONT, size=24, color="black"),
        showgrid=False, zeroline=False,
        showline=True, linecolor="black", linewidth=2,
        ticks="", fixedrange=True, automargin=False,
    ),
    yaxis=dict(
        range=[98, 114],
        tickmode="array", tickvals=y_ticks, ticktext=y_labels,
        tickfont=dict(family=FONT, size=25, color="black"),
        showgrid=True, gridcolor="black", gridwidth=2.5, griddash="7px,8px",
        zeroline=False,
        showline=True, linecolor="black", linewidth=2,
        ticks="outside", ticklen=6, tickwidth=2, tickcolor="black",
        ticklabelstandoff=7, automargin=False,
    ),
    shapes=[dict(type="rect", xref="paper", yref="paper",
                 x0=px_x(44), x1=1.05,
                 y0=px_y(745), y1=px_y(558),
                 line=dict(color="black", width=1.5), fillcolor="rgba(0,0,0,0)", layer="below")],
)

fig.write_html("out.html",
               config={"displayModeBar": False},
               post_script="document.body.style.margin='0px';document.body.style.overflow='hidden';")
